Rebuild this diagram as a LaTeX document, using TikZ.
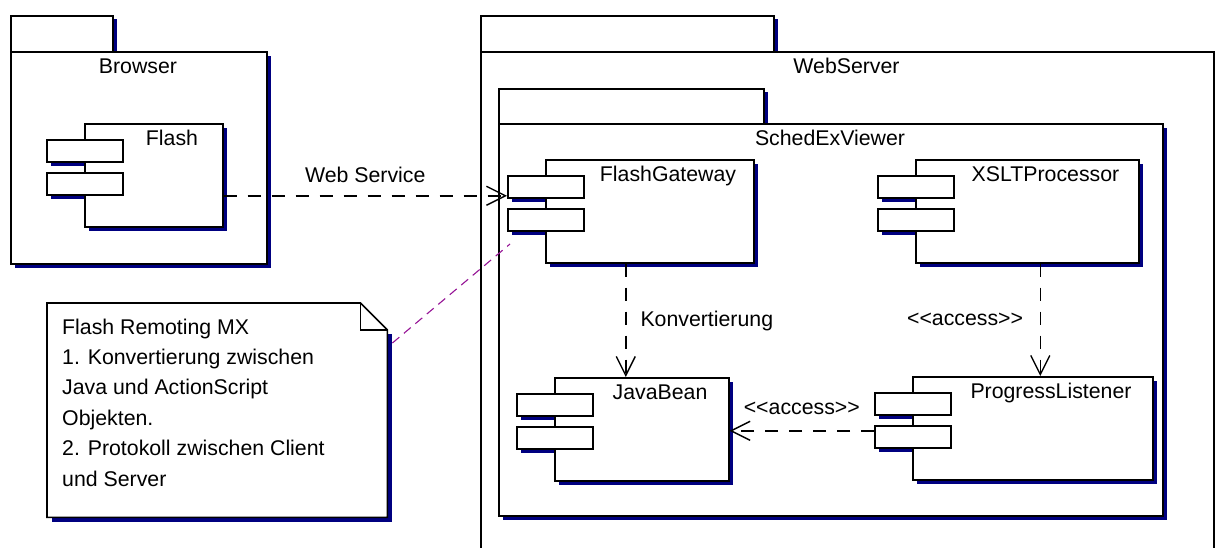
\documentclass[tikz,border=0pt]{standalone}
\usepackage{fontspec}
\setmainfont{Liberation Sans}
\usetikzlibrary{arrows.meta}

\definecolor{umlshadow}{RGB}{0,0,128}
\definecolor{notelink}{RGB}{150,20,150}

\newcommand\umlfont{\fontsize{21.3}{30.4}\selectfont}
\newcommand\stereo[1]{<\kern0pt<#1>\kern0pt>}

\tikzset{
  umlbox/.style={rectangle, draw=black, fill=white, line width=1.6pt,
    inner sep=0pt, anchor=north west},
  umlshade/.style={fill=umlshadow},
  umllabel/.style={font=\umlfont, inner sep=0pt, anchor=base},
  dependency/.style={draw=black, line width=1.4pt, dash pattern=on 13pt off 11pt,
    -{Straight Barb[length=19pt,width=19pt]}},
  anchorline/.style={draw=notelink, line width=1.1pt, dash pattern=on 9pt off 6pt},
}

% UML package: name, left, tab top, tab right, body top, body right, body bottom, label
\newcommand\umlpackage[8]{%
  \fill[umlshade] (#4,#3+4) rectangle (#4+5,#5);
  \fill[umlshade] (#2+5,#5+5) rectangle (#6+5,#7+5);
  \node[umlbox, minimum width={(#4-#2)*1pt}, minimum height={(#5-#3)*1pt}]
    (#1-tab) at (#2,#3) {};
  \node[umlbox, minimum width={(#6-#2)*1pt}, minimum height={(#7-#5)*1pt}]
    (#1) at (#2,#5) {};
  \node[umllabel] (#1-name) at ({(#2+#6)/2},#5+22.5) {#8};
}

% UML component: name, left, top, width, label
\newcommand\umlcomponent[5]{%
  \fill[umlshade] (#2-33,#3+21) rectangle (#2+43,#3+43);
  \fill[umlshade] (#2-33,#3+54) rectangle (#2+43,#3+76);
  \fill[umlshade] (#2+5,#3+5) rectangle (#2+#4+5,#3+108);
  \node[umlbox, minimum width=#4pt, minimum height=103pt] (#1) at (#2,#3) {};
  \node[umlbox, minimum width=76pt, minimum height=22pt] (#1-top) at (#2-38,#3+16) {};
  \node[umlbox, minimum width=76pt, minimum height=22pt] (#1-bottom) at (#2-38,#3+49) {};
  \node[umllabel] (#1-name) at ({#2+(#4+38)/2},#3+22.5) {#5};
}

\begin{document}
\begin{tikzpicture}[x=1pt,y=-1pt]
  \path[use as bounding box, fill=white] (0,0) rectangle (1215,547);
  \clip (0,0) rectangle (1215,547);

  % client side
  \umlpackage{browser}{10}{15}{112}{51}{266}{263}{Browser}
  \umlcomponent{flash}{84}{123}{138}{Flash}

  % server side
  \umlpackage{webserver}{480}{15}{773}{51}{1213}{620}{WebServer}
  \umlpackage{schedexviewer}{498}{88}{763}{123}{1162}{515}{SchedExViewer}
  \umlcomponent{flashgateway}{545}{159}{208}{FlashGateway}
  \umlcomponent{xsltprocessor}{915}{159}{223}{XSLTProcessor}
  \umlcomponent{javabean}{554}{377}{174}{JavaBean}
  \umlcomponent{progresslistener}{912}{376}{240}{ProgressListener}

  % note with folded corner
  \fill[umlshade] (52,334) rectangle (392,522);
  \node[rectangle, inner sep=0pt, minimum width=340pt, minimum height=214pt,
    anchor=north west] (note) at (47,303) {};
  \draw[line width=1.6pt, fill=white] (note.north west)
    -- ([xshift=-27pt]note.north east) -- ([yshift=-27pt]note.north east)
    -- (note.south east) -- (note.south west) -- cycle;
  \draw[line width=1.6pt] ([xshift=-27pt]note.north east)
    |- ([yshift=-27pt]note.north east);
  \node[anchor=base west, inner sep=0pt, font=\umlfont] (notetext) at (62,334)
    {\parbox[t]{320pt}{\raggedright Flash Remoting MX\\
      1. Konvertierung zwischen\\
      Java und ActionScript\\
      Objekten.\\
      2. Protokoll zwischen Client\\
      und Server}};
  \coordinate (notetip) at (510,244);
  \draw[anchorline] ([xshift=5pt,yshift=-40pt]note.north east) -- (notetip);

  % dependencies
  \coordinate (ws-start) at ([yshift=-20.5pt]flash.east);
  \draw[dependency] (ws-start) -- (ws-start -| flashgateway-top.west)
    node[umllabel, pos=0.5, yshift=13.3pt] (ws-label) {Web Service};

  \coordinate (konv-start) at ([xshift=-24pt]flashgateway.south);
  \draw[dependency] (konv-start) -- (konv-start |- javabean.north)
    node[umllabel, anchor=base west, pos=0.5, xshift=14pt, yshift=-6.5pt]
    (konv-label) {Konvertierung};

  \coordinate (xslt-start) at ([xshift=13pt]xsltprocessor.south);
  \draw[dependency] (xslt-start) -- (xslt-start |- progresslistener.north)
    node[umllabel, anchor=base east, pos=0.5, xshift=-16.5pt, yshift=-6pt]
    (xslt-label) {\stereo{access}};

  \coordinate (pl-start) at ([yshift=6pt]progresslistener-bottom.west);
  \draw[dependency] (pl-start) -- (pl-start -| javabean.east)
    node[umllabel, pos=0.5, yshift=16pt] (pl-label) {\stereo{access}};
\end{tikzpicture}
\end{document}
